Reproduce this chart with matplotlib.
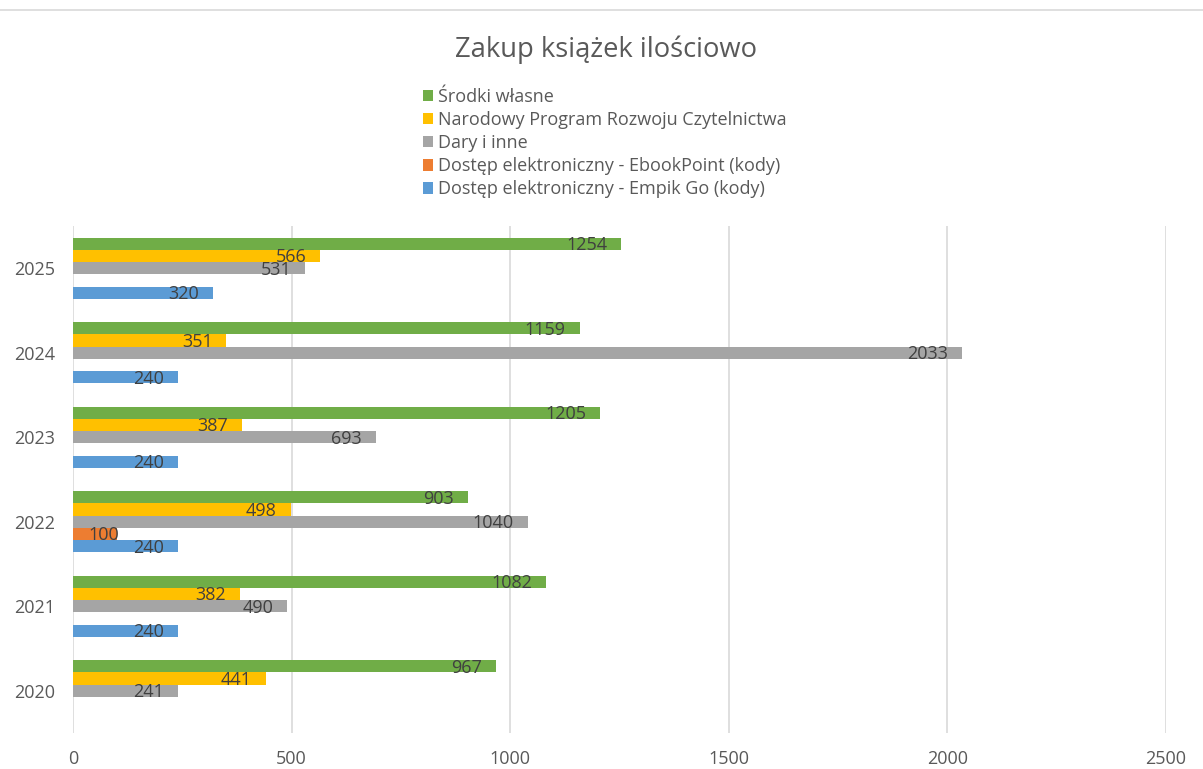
import numpy as np
import matplotlib
matplotlib.use("Agg")
import matplotlib.pyplot as plt
from matplotlib.lines import Line2D

plt.rcParams['font.family'] = ['Open Sans', 'DejaVu Sans']

years = ['2020', '2021', '2022', '2023', '2024', '2025']
series_names = [
    'Środki własne',
    'Narodowy Program Rozwoju Czytelnictwa',
    'Dary i inne',
    'Dostęp elektroniczny - EbookPoint (kody)',
    'Dostęp elektroniczny - Empik Go (kody)',
]
srodki_wlasne = [967, 1082, 903, 1205, 1159, 1254]
nprc = [441, 382, 498, 387, 351, 566]
dary = [241, 490, 1040, 693, 2033, 531]
ebookpoint = [np.nan, np.nan, 100, np.nan, np.nan, np.nan]
empik_go = [np.nan, 240, 240, 240, 240, 320]
x_ticks = [0, 500, 1000, 1500, 2000, 2500]

colors = ['#70AD47', '#FFC000', '#A5A5A5', '#ED7D31', '#5B9BD5']
data = [srodki_wlasne, nprc, dary, ebookpoint, empik_go]

W, H = 1203, 769
fig = plt.figure(figsize=(W / 100, H / 100), dpi=100)
ax = fig.add_axes([73 / W, 1 - 733 / H, (1166 - 73) / W, (733 - 226) / H])

h = 0.145
offsets = [2 * h, h, 0, -h, -2 * h]
ypos = np.arange(len(years))
px_per_unit = (1166 - 73) / 2500.0

for vals, col, off, name in zip(data, colors, offsets, series_names):
    v = np.array(vals, dtype=float)
    ax.barh(ypos + off, v, height=h, color=col, label=name, zorder=3)
    for yi, val in zip(ypos, v):
        if np.isnan(val):
            continue
        end_px = val * px_per_unit
        txt = f'{int(val)}'
        if end_px - 14 - 30 < 14:
            ax.annotate(txt, (0, yi + off), xytext=(11, -1), textcoords='offset points',
                        ha='left', va='center', fontsize=13, color='#404040', zorder=4)
        else:
            ax.annotate(txt, (val, yi + off), xytext=(-10, -1), textcoords='offset points',
                        ha='right', va='center', fontsize=13, color='#404040', zorder=4)

ax.set_xlim(0, 2500)
ax.set_ylim(-0.5, len(years) - 0.5)
ax.set_xticks(x_ticks)
ax.set_xticklabels([str(t) for t in x_ticks])
ax.set_yticks(ypos)
ax.set_yticklabels(years)
ax.tick_params(axis='both', length=0, labelsize=13, labelcolor='#595959')
ax.tick_params(axis='x', pad=12)
ax.tick_params(axis='y', pad=13)
ax.grid(axis='x', color='#d9d9d9', linewidth=1.2, zorder=0)
for s in ['top', 'right', 'bottom', 'left']:
    ax.spines[s].set_visible(False)

fig.text(606 / W, 1 - 50 / H, 'Zakup książek ilościowo', ha='center', va='center',
         fontsize=19.7, color='#595959')

leg = fig.legend(loc='upper left', bbox_to_anchor=(423 / W, 1 - 88 / H), frameon=False,
                 fontsize=13, handlelength=0.55, handleheight=0.6, handletextpad=0.3,
                 labelspacing=0.28, borderpad=0, borderaxespad=0)
for t in leg.get_texts():
    t.set_color('#595959')

fig.add_artist(Line2D([0, 1], [1 - 10 / H, 1 - 10 / H], color='#d9d9d9', linewidth=1.2))

fig.savefig('out.png', dpi=100)
